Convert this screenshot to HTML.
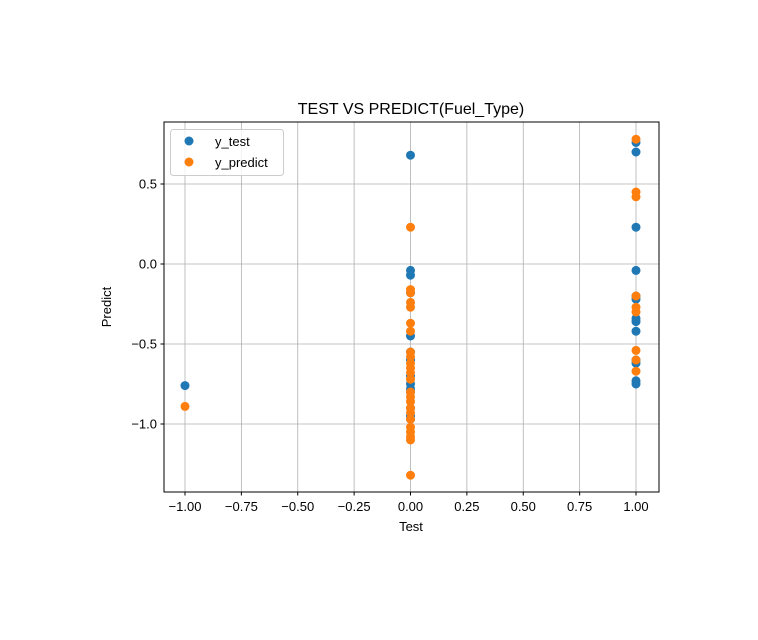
<!DOCTYPE html>
<html><head><meta charset="utf-8"><style>
body{margin:0;background:#fff}
svg text{font-family:"Liberation Sans","DejaVu Sans",sans-serif;fill:#000}
</style></head><body>
<svg id="chart" width="758" height="635">
<rect width="758" height="635" fill="#fff"/>
<g id="grid"></g>
<g id="marks"></g>
<rect x="164" y="122" width="495" height="370" fill="none" stroke="#000" stroke-width="1"/>
<g id="ticks"></g>
<text x="411" y="114" font-size="16" text-anchor="middle">TEST VS PREDICT(Fuel_Type)</text>
<text x="411" y="531" font-size="13" text-anchor="middle">Test</text>
<text transform="translate(111,307) rotate(-90)" font-size="13" text-anchor="middle">Predict</text>
<g>
<rect x="170.5" y="129.5" width="113" height="46" rx="3" fill="#fff" fill-opacity="0.8" stroke="#ccc"/>
<circle cx="189" cy="141" r="4.5" fill="#1f77b4"/>
<text x="215" y="146" font-size="13">y_test</text>
<circle cx="189" cy="162" r="4.5" fill="#ff7f0e"/>
<text x="215" y="167" font-size="13">y_predict</text>
</g>
</svg>
<script>
const xTicks=[-1.0,-0.75,-0.5,-0.25,0.0,0.25,0.5,0.75,1.0];
const xTickLabels=["−1.00","−0.75","−0.50","−0.25","0.00","0.25","0.50","0.75","1.00"];
const yTicks=[0.5,0.0,-0.5,-1.0];
const yTickLabels=["0.5","0.0","−0.5","−1.0"];
const testX=[-1,0,0,0,0,0,0,0,0,0,0,0,0,0,0,1,1,1,1,1,1,1,1,1,1,1,1,1];
const testY=[-0.76,0.68,-0.04,-0.07,-0.18,-0.45,-0.55,-0.6,-0.7,-0.75,-0.78,-0.8,-0.9,-0.95,-0.97,0.76,0.70,0.23,-0.04,-0.2,-0.22,-0.34,-0.36,-0.42,-0.6,-0.62,-0.73,-0.75];
const predX=[-1,0,0,0,0,0,0,0,0,0,0,0,0,0,0,0,0,0,0,0,0,0,0,0,0,1,1,1,1,1,1,1,1,1];
const predY=[-0.89,0.23,-0.16,-0.18,-0.24,-0.27,-0.37,-0.42,-0.55,-0.58,-0.62,-0.65,-0.68,-0.72,-0.8,-0.83,-0.86,-0.9,-0.93,-0.97,-1.02,-1.05,-1.08,-1.1,-1.32,0.78,0.45,0.42,-0.2,-0.27,-0.3,-0.54,-0.6,-0.67];
const sx=v=>410.5+v*225.5;
const sy=v=>264-v*160;
const NS="http://www.w3.org/2000/svg";
const grid=document.getElementById('grid'),ticks=document.getElementById('ticks'),marks=document.getElementById('marks');
function mk(tag,attrs,parent){const e=document.createElementNS(NS,tag);for(const k in attrs)e.setAttribute(k,attrs[k]);parent.appendChild(e);return e;}
xTicks.forEach((v,i)=>{const x=sx(v);
 const g=mk('line',{x1:x,x2:x,y1:122,y2:492,stroke:'#b0b0b0','stroke-width':0.8},grid);
 
 
 mk('line',{x1:x,x2:x,y1:492,y2:495.5,stroke:'#000'},ticks);
 const t=mk('text',{x:x,y:511,'font-size':13,'text-anchor':'middle'},ticks);t.textContent=xTickLabels[i];
 
 
});
yTicks.forEach((v,i)=>{const y=sy(v);
 const g=mk('line',{x1:164,x2:659,y1:y,y2:y,stroke:'#b0b0b0','stroke-width':0.8},grid);
 
 
 mk('line',{x1:160.5,x2:164,y1:y,y2:y,stroke:'#000'},ticks);
 const t=mk('text',{x:157,y:y+4.5,'font-size':13,'text-anchor':'end'},ticks);t.textContent=yTickLabels[i];
 
 
});
testX.forEach((v,i)=>{const c=mk('circle',{cx:sx(v),cy:sy(testY[i]),r:4.5,fill:'#1f77b4'},marks);
 
 });
predX.forEach((v,i)=>{const c=mk('circle',{cx:sx(v),cy:sy(predY[i]),r:4.5,fill:'#ff7f0e'},marks);
 
 });
</script>
</body></html>
